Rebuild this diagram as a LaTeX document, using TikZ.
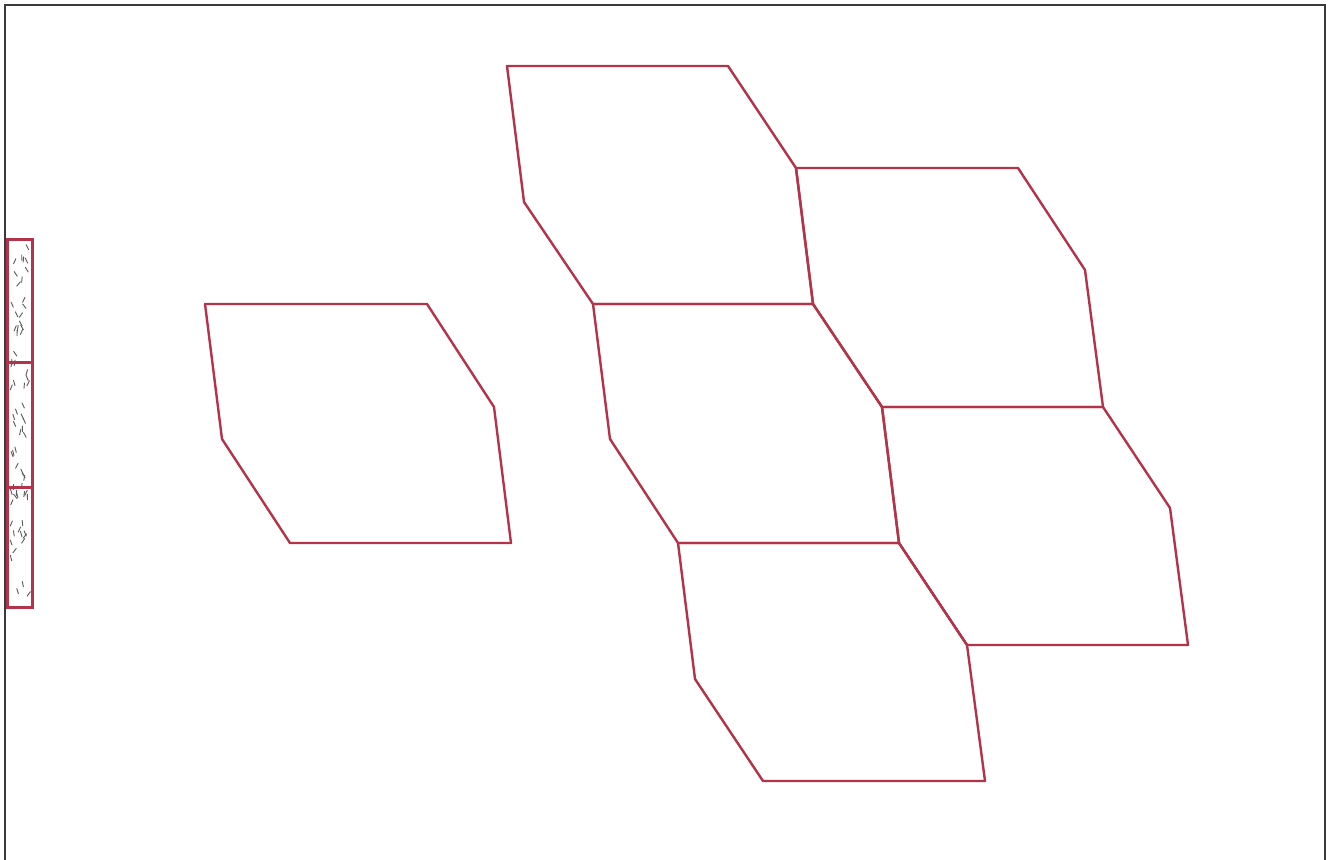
\documentclass[tikz,border=0pt]{standalone}
\usetikzlibrary{calc}
\definecolor{tilered}{HTML}{B3344A}
\definecolor{framegray}{HTML}{3A3A3A}
\tikzset{
  tile/.style={draw=tilered, line width=1.2pt, line join=round},
  stripbox/.style={draw=tilered, line width=1.5pt},
  framelinestyle/.style={draw=framegray, line width=1.1pt},
  speck/.style={draw=black!65, line width=0.45pt}
}
\begin{document}
\begin{tikzpicture}[x=0.5pt,y=-0.5pt]
\useasboundingbox (0,0) rectangle (1331,860);
% frame
\draw[framelinestyle] (5,860) -- (5,5) -- (1325,5) -- (1325,860);
% strip with speckles
\pgfmathsetseed{11}
\foreach \i in {1,...,70}{
  \pgfmathsetmacro{\sx}{11+rnd*18}
  \pgfmathsetmacro{\sy}{245+rnd*358}
  \pgfmathsetmacro{\ang}{50+rnd*80}
  \draw[speck] ($(\sx,\sy)+(\ang:3)$) -- ($(\sx,\sy)+(\ang+180:3)$);
}
\draw[stripbox] (7,240) rectangle (32,363);
\draw[stripbox] (7,363) rectangle (32,487);
\draw[stripbox] (7,487) rectangle (32,607);
% shared vertices
\coordinate (a1) at (507,66);  \coordinate (a2) at (728,66);
\coordinate (a3) at (796,168); \coordinate (a4) at (813,304);
\coordinate (a5) at (593,304); \coordinate (a6) at (524,202);
\coordinate (b2) at (1018,168); \coordinate (b3) at (1085,270);
\coordinate (b4) at (1103,407); \coordinate (b5) at (882,407);
\coordinate (c4) at (899,543); \coordinate (c5) at (678,543);
\coordinate (c6) at (610,439);
\coordinate (d3) at (1170,508); \coordinate (d4) at (1188,645);
\coordinate (d5) at (967,645);
\coordinate (e4) at (985,781); \coordinate (e5) at (763,781);
\coordinate (e6) at (695,679);
% tiles
\draw[tile] (205,304) -- (427,304) -- (494,407) -- (511,543) -- (290,543) -- (222,439) -- cycle;
\draw[tile] (a1) -- (a2) -- (a3) -- (a4) -- (a5) -- (a6) -- cycle;
\draw[tile] (a3) -- (b2) -- (b3) -- (b4) -- (b5) -- (a4) -- cycle;
\draw[tile] (a5) -- (a4) -- (b5) -- (c4) -- (c5) -- (c6) -- cycle;
\draw[tile] (b5) -- (b4) -- (d3) -- (d4) -- (d5) -- (c4) -- cycle;
\draw[tile] (c5) -- (c4) -- (d5) -- (e4) -- (e5) -- (e6) -- cycle;
\end{tikzpicture}
\end{document}
